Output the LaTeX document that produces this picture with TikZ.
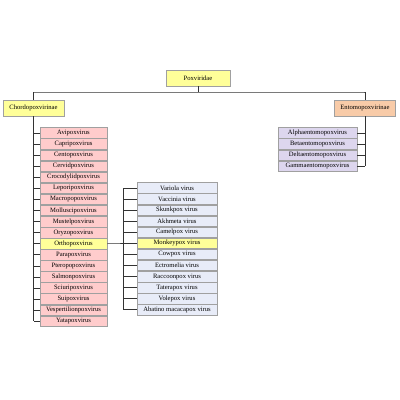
\documentclass[tikz,border=0pt]{standalone}
\usepackage{fontspec}
\setmainfont{Liberation Serif}
\definecolor{yel}{HTML}{FFFF99}
\definecolor{pnk}{HTML}{FFCCCC}
\definecolor{lav}{HTML}{DDD6EE}
\definecolor{lblue}{HTML}{E8ECF8}
\definecolor{peach}{HTML}{F8CBA8}
\definecolor{bord}{HTML}{A0A0A0}
\begin{document}
\begin{tikzpicture}[x=1pt,y=-1pt,
  box/.style={draw=bord,line width=0.6pt,inner sep=0pt,font=\fontsize{6.6}{7}\selectfont,anchor=center},
  top/.style={box,fill=yel,minimum width=64pt,minimum height=16pt},
  sub/.style={box,minimum width=61pt,minimum height=16pt},
  lst/.style={box,fill=pnk,minimum width=67pt,minimum height=10.6pt},
  rlst/.style={box,fill=lblue,minimum width=80pt,minimum height=10.6pt},
  elst/.style={box,fill=lav,minimum width=79pt,minimum height=10.6pt},
  conn/.style={draw=black!80,line width=0.6pt}]
\useasboundingbox (0,0) rectangle (400,400);
\node[top] (pox) at (198,78) {Poxviridae};
\node[sub,fill=yel] (chordo) at (33.5,108) {Chordopoxvirinae};
\node[sub,fill=peach] (ento) at (365,108) {Entomopoxvirinae};
\coordinate (hl) at (34,92);
\coordinate (hr) at (364,92);
\draw[conn] (pox.south) -- (pox.south |- hl);
\draw[conn] (chordo.north) |- (hl) -- (hr) -| (ento.north);
% left list
\foreach \n/\t [count=\i from 0] in {avi/Avipoxvirus,capri/Capripoxvirus,cento/Centopoxvirus,cervid/Cervidpoxvirus,croco/Crocodylidpoxvirus,lepori/Leporipoxvirus,macro/Macropopoxvirus,mollusci/Molluscipoxvirus,mustel/Mustelpoxvirus,oryzo/Oryzopoxvirus,ortho/Orthopoxvirus,para/Parapoxvirus,ptero/Pteropopoxvirus,salmon/Salmonpoxvirus,sciuri/Sciuripoxvirus,sui/Suipoxvirus,vesper/Vespertilionpoxvirus,yata/Yatapoxvirus}{
  \node[lst] (\n) at (73.5,133+11.07*\i) {\t};
  \draw[conn] (\n.west) -- (\n.west -| chordo.south);
}
\node[lst,fill=yel] at (ortho) {Orthopoxvirus};
\draw[conn] (chordo.south) -- (chordo.south |- yata.west);
% right list
\foreach \n/\t [count=\i from 0] in {variola/Variola virus,vaccinia/Vaccinia virus,skunk/Skunkpox virus,akh/Akhmeta virus,camel/Camelpox virus,monkey/Monkeypox virus,cow/Cowpox virus,ectro/Ectromelia virus,racoon/Raccoonpox virus,tatera/Taterapox virus,vole/Volepox virus,abat/Abatino macacapox virus}{
  \node[rlst] (\n) at (177,188+11.07*\i) {\t};
  \coordinate (r\n) at (123,188+11.07*\i);
  \draw[conn] (\n.west) -- (r\n);
}
\node[rlst,fill=yel] at (monkey) {Monkeypox virus};
\draw[conn] (rvariola) -- (rabat);
\draw[conn] (ortho.east) -- (monkey.west);
% ento list
\foreach \n/\t [count=\i from 0] in {alpha/Alphaentomopoxvirus,beta/Betaentomopoxvirus,delta/Deltaentomopoxvirus,gamma/Gammaentomopoxvirus}{
  \node[elst] (\n) at (317.5,133+11.07*\i) {\t};
  \draw[conn] (\n.east) -- (\n.east -| ento.south);
}
\draw[conn] (ento.south) -- (ento.south |- gamma.east);
\end{tikzpicture}
\end{document}
